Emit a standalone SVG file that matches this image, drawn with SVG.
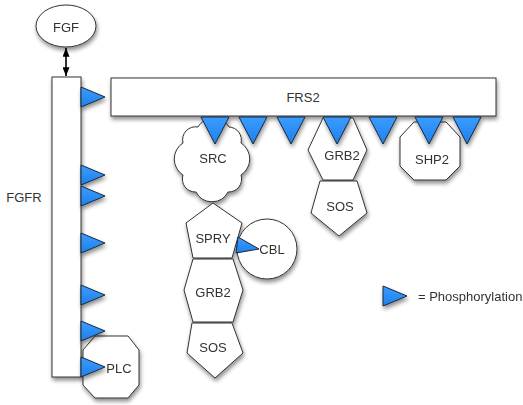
<svg xmlns="http://www.w3.org/2000/svg" xmlns:xlink="http://www.w3.org/1999/xlink" width="523" height="405" viewBox="0 0 523 405">
<style>
  .shape { fill: #ffffff; stroke: #333333; stroke-width: 1; }
  .lbl { font-family: "Liberation Sans", Arial, sans-serif; font-size: 13px; fill: #333333; text-anchor: middle; dominant-baseline: central; }
  .tri { fill: url(#blue); stroke: #1a2a3a; stroke-width: 1; stroke-linejoin: miter; }
  .conn { stroke: #000000; stroke-width: 1.6; fill: none; }
</style>
<defs>
  <linearGradient id="blue" x1="0" y1="0" x2="0" y2="1">
    <stop offset="0" stop-color="#3b9cff"/>
    <stop offset="1" stop-color="#1f80ea"/>
  </linearGradient>
  <filter id="shadow" x="-20%" y="-20%" width="140%" height="150%">
    <feGaussianBlur in="SourceAlpha" stdDeviation="2"/>
    <feOffset dx="1" dy="3" result="b"/>
    <feComponentTransfer><feFuncA type="linear" slope="0.45"/></feComponentTransfer>
    <feMerge><feMergeNode/><feMergeNode in="SourceGraphic"/></feMerge>
  </filter>
  <marker id="ah" viewBox="0 0 10 8" refX="10" refY="4" markerUnits="userSpaceOnUse" markerWidth="9" markerHeight="7" orient="auto-start-reverse">
    <path d="M0,0 L10,4 L0,8 z" fill="#000"/>
  </marker>
  <polygon id="triR" points="0,-10 0,10 24,0"/>
  <polygon id="triD" points="-14,0 14,0 0,27"/>
</defs>

<g id="connectors">
  <line class="conn" x1="66" y1="48" x2="66" y2="76" marker-start="url(#ah)" marker-end="url(#ah)"/>
</g>

<g id="FGF" filter="url(#shadow)">
  <ellipse class="shape" cx="66" cy="26" rx="30" ry="21"/>
  <text class="lbl" x="66" y="27">FGF</text>
</g>

<g id="FGFR">
  <rect class="shape" x="52" y="77" width="29" height="300" filter="url(#shadow)"/>
  <text class="lbl" x="24" y="197">FGFR</text>
</g>

<g id="FRS2">
  <rect class="shape" x="111" y="78" width="385" height="38" filter="url(#shadow)"/>
  <text class="lbl" x="303" y="97">FRS2</text>
</g>

<g id="SRC" filter="url(#shadow)">
  <path class="shape" d="M198,127 A18,18 0 0 1 229,127 A13,13 0 0 1 241,143 A19,19 0 0 1 241,175 A13,13 0 0 1 228,192 A18,18 0 0 1 196,192 A13,13 0 0 1 183,175 A19,19 0 0 1 183,143 A13,13 0 0 1 198,127 Z"/>
  <text class="lbl" x="213" y="158">SRC</text>
</g>

<g id="GRB2_top" filter="url(#shadow)">
  <polygon class="shape" points="323,118 353,118 367,150 353,180 323,180 308,150"/>
  <text class="lbl" x="342" y="155">GRB2</text>
</g>

<g id="SOS_top" filter="url(#shadow)">
  <polygon class="shape" points="320,181 357,181 367,213 339,236 311,213"/>
  <text class="lbl" x="340" y="206">SOS</text>
</g>

<g id="SHP2" filter="url(#shadow)">
  <polygon class="shape" points="414,122 446,122 460,137 460,166 446,180 414,180 400,166 400,137"/>
  <text class="lbl" x="432" y="159">SHP2</text>
</g>

<g id="SPRY" filter="url(#shadow)">
  <polygon class="shape" points="213,203 242,223 232,258 193,258 186,223"/>
  <text class="lbl" x="213" y="238">SPRY</text>
</g>

<g id="CBL" filter="url(#shadow)">
  <circle class="shape" cx="267" cy="249" r="30"/>
  <polygon class="tri" points="238,237 236,253 259,249"/>
  <text class="lbl" x="272" y="249">CBL</text>
</g>

<g id="GRB2_bottom" filter="url(#shadow)">
  <polygon class="shape" points="193,259 233,259 243,290 233,322 193,322 184,290"/>
  <text class="lbl" x="213" y="292">GRB2</text>
</g>

<g id="SOS_bottom" filter="url(#shadow)">
  <polygon class="shape" points="192,323 232,323 243,353 215,378 187,353"/>
  <text class="lbl" x="213" y="347">SOS</text>
</g>

<g id="PLC" filter="url(#shadow)">
  <polygon class="shape" points="95,336 128,336 139,350 139,385 128,398 95,398 83,385 83,350"/>
  <text class="lbl" x="119" y="368">PLC</text>
</g>

<g id="phosphorylation" filter="url(#shadow)">
  <use href="#triR" class="tri" x="81" y="97"/>
  <use href="#triR" class="tri" x="81" y="175"/>
  <use href="#triR" class="tri" x="81" y="196"/>
  <use href="#triR" class="tri" x="81" y="243"/>
  <use href="#triR" class="tri" x="81" y="295"/>
  <use href="#triR" class="tri" x="81" y="331"/>
  <use href="#triR" class="tri" x="81" y="367"/>
  <use href="#triD" class="tri" x="215" y="117"/>
  <use href="#triD" class="tri" x="253" y="117"/>
  <use href="#triD" class="tri" x="291" y="117"/>
  <use href="#triD" class="tri" x="337" y="117"/>
  <use href="#triD" class="tri" x="383" y="117"/>
  <use href="#triD" class="tri" x="429" y="117"/>
  <use href="#triD" class="tri" x="467" y="117"/>
</g>

<g id="legend">
  <use href="#triR" class="tri" x="383" y="296" filter="url(#shadow)"/>
  <text class="lbl" x="418" y="296" style="text-anchor:start">= Phosphorylation</text>
</g>
</svg>
